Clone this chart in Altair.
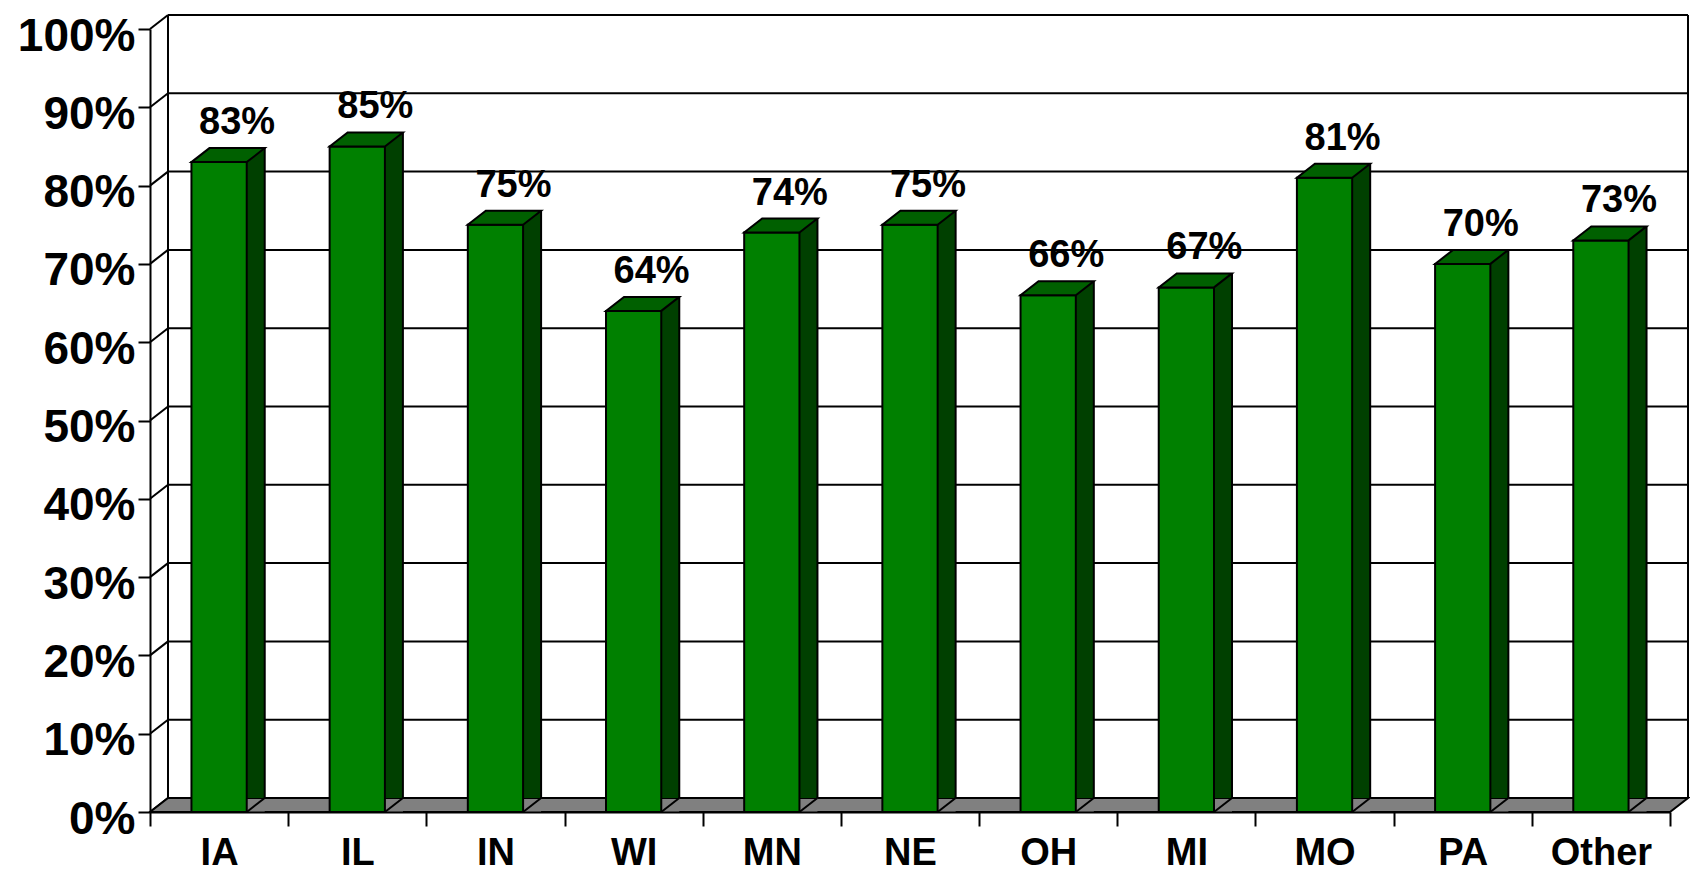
import altair as alt
import pandas as pd

# ---- data ----
categories = ["IA", "IL", "IN", "WI", "MN", "NE", "OH", "MI", "MO", "PA", "Other"]
values = [83, 85, 75, 64, 74, 75, 66, 67, 81, 70, 73]
value_labels = ["83%", "85%", "75%", "64%", "74%", "75%", "66%", "67%", "81%", "70%", "73%"]
y_ticks = [0, 10, 20, 30, 40, 50, 60, 70, 80, 90, 100]

# ---- layout / style ----
W, H = 1520, 783
PAD = {"left": 142, "top": 21, "right": 20, "bottom": 60}
DX, DY = 18, 14              # depth of the pseudo-3D effect
STEP = W / len(categories)
BW = STEP * 0.4              # bar width
HB = BW / 2
FRONT, TOP, SIDE, FLOOR = "#008000", "#006000", "#004000", "#808080"
FONT = "Liberation Sans"
SW = 2

df = pd.DataFrame({"cat": categories, "val": values, "lab": value_labels})
grid = pd.DataFrame({"val": y_ticks})
one = pd.DataFrame({"val": [0], "top": [100]})

yscale = alt.Scale(domain=[0, 100], nice=False)
xscale = alt.Scale(type="band", paddingInner=0, paddingOuter=0)
X = alt.X("cat:N", sort=categories, scale=xscale)
Y = alt.Y("val:Q", scale=yscale)

# invisible layer that carries the axes (first layer defines them)
axes = alt.Chart(df).mark_bar(opacity=0).encode(
    x=alt.X(
        "cat:N", sort=categories, scale=xscale,
        axis=alt.Axis(
            title=None, labelAngle=0, labelAlign="center", labelFont=FONT,
            labelFontSize=38, labelFontWeight="bold", labelColor="black",
            labelPadding=8, tickBand="extent", tickSize=14, tickColor="black",
            tickWidth=SW, domainColor="black", domainWidth=SW, grid=False, zindex=1,
        ),
    ),
    y=alt.Y(
        "val:Q", scale=yscale,
        axis=alt.Axis(
            title=None, values=y_ticks, labelExpr="datum.value + '%'",
            labelFont=FONT, labelFontSize=46, labelFontWeight="bold",
            labelColor="black", labelPadding=3, labelOffset=7,
            tickSize=12, tickColor="black", tickWidth=SW,
            domainColor="black", domainWidth=SW, grid=False, zindex=1,
        ),
    ),
)

# back wall grid lines
back_grid = alt.Chart(grid).mark_rule(
    color="black", strokeWidth=SW, xOffset=DX, x2Offset=DX, yOffset=-DY
).encode(y=Y, x=alt.value(0), x2=alt.value(W))

# diagonal connectors from the front axis to the back wall
connectors = alt.Chart(grid).mark_rule(
    color="black", strokeWidth=SW, y2Offset=-DY
).encode(y=Y, y2="val:Q", x=alt.value(0), x2=alt.value(DX))

# back wall verticals
wall_left = alt.Chart(one).mark_rule(
    color="black", strokeWidth=SW, yOffset=-DY, y2Offset=-DY
).encode(x=alt.value(DX), y=Y, y2="top:Q")
wall_right = alt.Chart(one).mark_rule(
    color="black", strokeWidth=SW, yOffset=-DY, y2Offset=-DY
).encode(x=alt.value(W + DX), y=Y, y2="top:Q")

# floor (parallelogram)
floor_path = f"M0,0 L{W},0 L{W + DX},{-DY} L{DX},{-DY} Z"
floor = alt.Chart(one).mark_point(
    shape=floor_path, size=4, filled=True, fill=FLOOR, stroke="black",
    strokeWidth=SW, opacity=1
).encode(x=alt.value(0), y=Y)

# side faces
side = alt.Chart(df).mark_bar(
    width=DX, xOffset=HB + DX / 2, yOffset=-DY, color=SIDE
).encode(x=X, y=Y)

# floor-coloured triangle below each side face, and its diagonal edge
tri_cover = alt.Chart(df).transform_calculate(base="0").mark_point(
    shape=f"M0,0 L{DX},{-DY} L{DX},0 Z", size=4, filled=True, fill=FLOOR,
    strokeWidth=0, opacity=1, xOffset=HB
).encode(x=X, y=alt.Y("base:Q", scale=yscale))

bottom_diag = alt.Chart(df).transform_calculate(base="0").mark_point(
    shape=f"M0,0 L{DX},{-DY}", size=4, filled=False, stroke="black",
    strokeWidth=SW, opacity=1, xOffset=HB
).encode(x=X, y=alt.Y("base:Q", scale=yscale))

# front faces
front = alt.Chart(df).mark_bar(
    width=BW, color=FRONT, stroke="black", strokeWidth=SW
).encode(x=X, y=Y)

# top faces
top_path = f"M{-HB},0 L{HB},0 L{HB + DX},{-DY} L{-HB + DX},{-DY} Z"
top = alt.Chart(df).mark_point(
    shape=top_path, size=4, filled=True, fill=TOP, stroke="black",
    strokeWidth=SW, opacity=1
).encode(x=X, y=Y)

# back-right vertical edge of each bar
back_edge = alt.Chart(df).transform_calculate(base="0").mark_rule(
    color="black", strokeWidth=SW, xOffset=HB + DX, yOffset=-DY, y2Offset=-DY
).encode(x=X, y=Y, y2="base:Q")

# value labels
text = alt.Chart(df).mark_text(
    font=FONT, fontSize=38, fontWeight="bold", color="black",
    baseline="alphabetic", dx=18, dy=-28
).encode(x=X, y=Y, text="lab:N")

chart = alt.layer(
    axes, back_grid, connectors, wall_left, wall_right, floor,
    side, tri_cover, bottom_diag, front, top, back_edge, text
).properties(
    width=W, height=H, padding=PAD, autosize=alt.AutoSizeParams(type="none")
).configure_view(stroke=None)

chart.save("out.html", embed_options={"renderer": "svg", "actions": False})
